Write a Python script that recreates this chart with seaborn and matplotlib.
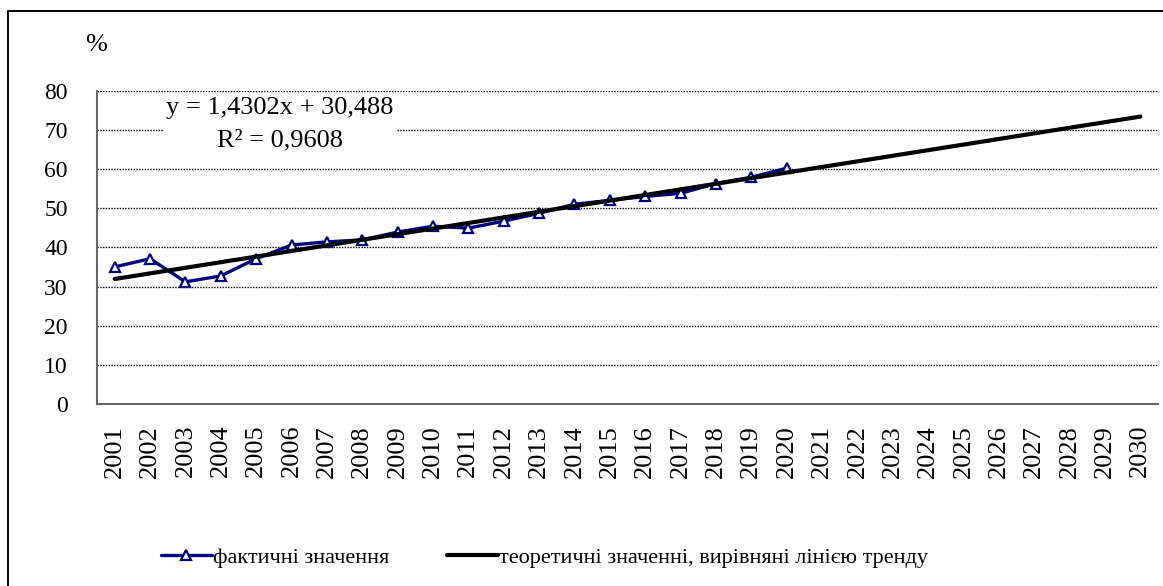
import matplotlib
matplotlib.use("Agg")
import matplotlib.pyplot as plt
from matplotlib.lines import Line2D
import matplotlib.transforms as mtransforms
import numpy as np
import pandas as pd
import seaborn as sns

# ---- data ----
years = [str(y) for y in range(2001, 2031)]
actual_years = [str(y) for y in range(2001, 2021)]
actual_values = [35.0, 37.1, 31.2, 32.7, 37.1, 40.6, 41.4, 41.9, 43.9, 45.4,
                 44.9, 46.7, 48.7, 51.0, 52.0, 53.0, 53.8, 56.3, 57.9, 60.2]
trend_slope = 1.4302
trend_intercept = 30.488
r_squared = "0,9608"
y_ticks = [0, 10, 20, 30, 40, 50, 60, 70, 80]
label_actual = "фактичні значення"
label_trend = "теоретичні значенні, вирівняні лінією тренду"

sns.set_style("white")
plt.rcParams['font.family'] = ['Liberation Serif', 'DejaVu Serif']
plt.rcParams['text.color'] = 'black'

W, H = 1163, 586
fig = plt.figure(figsize=(W / 100, H / 100), dpi=100)
ax = fig.add_axes([97 / W, 1 - 404 / H, (1158 - 97) / W, (404 - 90.7) / H])

pos_all = np.arange(1, len(years) + 1)
df_act = pd.DataFrame({"x": np.arange(1, len(actual_years) + 1), "y": actual_values})
df_tr = pd.DataFrame({"x": pos_all, "y": trend_slope * pos_all + trend_intercept})

for yv in y_ticks[1:]:
    ax.axhline(yv, color="black", lw=1.0, ls=(0, (1.0, 1.0)), zorder=1)

sns.lineplot(data=df_act, x="x", y="y", ax=ax, color="#000080", lw=2.4,
             marker="^", markersize=7, markerfacecolor="white",
             markeredgecolor="#000080", markeredgewidth=1.6,
             label=label_actual, zorder=3)
sns.lineplot(data=df_tr, x="x", y="y", ax=ax, color="black", lw=3.0,
             label=label_trend, zorder=4)

ax.set_xlim(0.5, len(years) + 0.5)
ax.set_ylim(0, 80)
ax.set_xlabel("")
ax.set_ylabel("")
ax.set_xticks(pos_all)
ax.set_xticklabels(years, rotation=90, fontsize=19, va="top")
ax.set_xticks(np.arange(0.5, len(years) + 1, 1), minor=True)
ax.tick_params(axis="x", which="major", length=0, pad=15, labelcolor="black")
ax.tick_params(axis="x", which="minor", length=8, width=1.2, color="#555555", direction="out")
ax.set_yticks(y_ticks)
ax.set_yticklabels([str(v) for v in y_ticks], fontsize=17)
ax.tick_params(axis="y", length=7, width=1.2, color="#555555", direction="out", pad=14,
               labelcolor="black")
for s in ["top", "right"]:
    ax.spines[s].set_visible(False)
for s in ["left", "bottom"]:
    ax.spines[s].set_color("#666666")
    ax.spines[s].set_linewidth(1.5)

blend = mtransforms.blended_transform_factory(ax.transAxes, ax.transData)
eq_text = (f"y = {str(trend_slope).replace('.', ',')}x + "
           f"{str(trend_intercept).replace('.', ',')}\nR² = {r_squared}")
ax.text((280 - 97) / (1158 - 97), 71.4, eq_text, transform=blend,
        fontsize=19, ha="center", va="center", linespacing=1.6, zorder=5,
        bbox=dict(facecolor="white", edgecolor="none", pad=2))

fig.text(96 / W, 1 - 45 / H, "%", fontsize=19, ha="center", va="center")

leg = ax.legend(loc="center left", bbox_to_anchor=(152 / W, 1 - 558 / H),
                bbox_transform=fig.transFigure, ncol=2, frameon=False,
                fontsize=16, handlelength=2.3, handletextpad=0.05,
                columnspacing=2.6, borderaxespad=0)

# outer frame
fig.add_artist(Line2D([8 / W, 8 / W], [0, 1 - 11 / H], transform=fig.transFigure,
                      color="black", lw=1.4))
fig.add_artist(Line2D([8 / W, 1], [1 - 11 / H, 1 - 11 / H], transform=fig.transFigure,
                      color="black", lw=1.4))

fig.savefig("out.png", dpi=100)
